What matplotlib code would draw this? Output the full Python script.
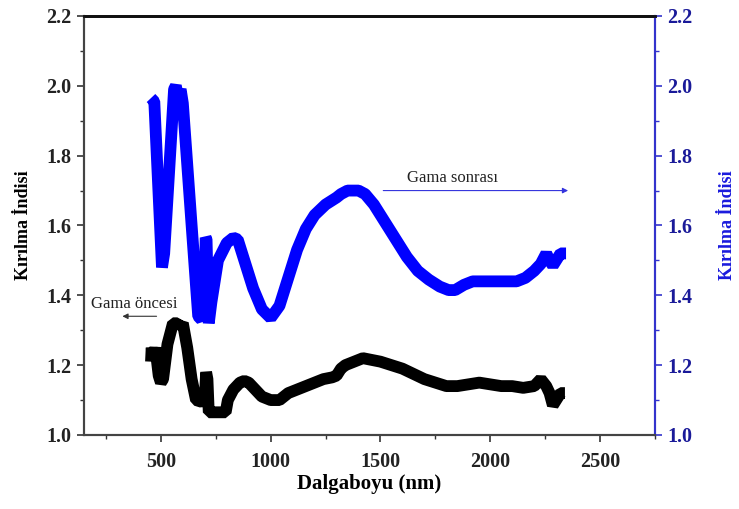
import matplotlib
matplotlib.use("Agg")
import matplotlib.pyplot as plt
from matplotlib.ticker import MultipleLocator

# Data
wl_after = [455, 470, 505, 515, 560, 568, 578, 590, 600, 640, 670, 685, 698, 704, 708, 712, 718, 730,
            760, 800, 830, 850, 880, 920, 960, 1000, 1040, 1080, 1120, 1160, 1200, 1250, 1300,
            1320, 1350, 1400, 1430, 1470, 1520, 1570, 1620, 1670, 1720, 1770, 1810, 1840, 1880,
            1920, 1960, 2000, 2040, 2080, 2120, 2160, 2200, 2230, 2255, 2270, 2285, 2300, 2320, 2345]
n_after = [1.965, 1.955, 1.48, 1.52, 1.99, 2.00, 1.97, 1.99, 1.95, 1.60, 1.34, 1.33, 1.40, 1.565, 1.56,
           1.45, 1.32, 1.38, 1.50, 1.55, 1.565, 1.56, 1.50, 1.42, 1.36, 1.335, 1.37, 1.45, 1.53, 1.59,
           1.63, 1.66, 1.68, 1.69, 1.70, 1.70, 1.69, 1.66, 1.61, 1.56, 1.51, 1.47, 1.445, 1.425, 1.415,
           1.415, 1.43, 1.44, 1.44, 1.44, 1.44, 1.44, 1.44, 1.45, 1.47, 1.49, 1.52, 1.50, 1.485, 1.50,
           1.52, 1.52]

wl_before = [455, 458, 465, 475, 490, 500, 510, 530, 555, 575, 585, 600, 620, 640, 660, 685, 700,
             706, 712, 718, 740, 795, 805, 830, 860, 880, 900, 930, 960, 1000, 1040, 1080,
             1120, 1160, 1200, 1240, 1280, 1300, 1320, 1340, 1380, 1420, 1460, 1500, 1550, 1600,
             1650, 1700, 1750, 1800, 1850, 1900, 1950, 2000, 2050, 2100, 2150, 2200, 2230,
             2255, 2270, 2285, 2300, 2320, 2340]
n_before = [1.21, 1.25, 1.22, 1.25, 1.17, 1.15, 1.16, 1.26, 1.32, 1.32, 1.31, 1.32, 1.25, 1.16, 1.10,
            1.095, 1.10, 1.18, 1.16, 1.065, 1.065, 1.065, 1.10, 1.13, 1.15, 1.155, 1.15, 1.13, 1.11,
            1.10, 1.10, 1.12, 1.13, 1.14, 1.15, 1.16, 1.165, 1.17, 1.19, 1.20, 1.21, 1.22, 1.215,
            1.21, 1.20, 1.19, 1.175, 1.16, 1.15, 1.14, 1.14, 1.145, 1.15, 1.145, 1.14, 1.14, 1.135,
            1.14, 1.16, 1.14, 1.12, 1.085, 1.10, 1.12, 1.12]

xticks = [500, 1000, 1500, 2000, 2500]
yticks = [1.0, 1.2, 1.4, 1.6, 1.8, 2.0, 2.2]

plt.rcParams['font.family'] = ['Liberation Serif', 'DejaVu Serif']

fig = plt.figure(figsize=(7.39, 5.09), dpi=100)
ax = fig.add_axes([0.1137, 0.1454, 0.7726, 0.8232])
ax2 = ax.twinx()

ax.plot(wl_before, n_before, color='black', lw=8.5, solid_joinstyle='bevel', solid_capstyle='butt')
ax2.plot(wl_after, n_after, color='#0000ff', lw=8.5, solid_joinstyle='bevel', solid_capstyle='butt')

for a in (ax, ax2):
    a.set_ylim(1.0, 2.2)
    a.set_yticks(yticks)
    a.yaxis.set_minor_locator(MultipleLocator(0.1))
ax.set_xlim(150, 2750)
ax.set_xticks(xticks)
ax.xaxis.set_minor_locator(MultipleLocator(250))

ax.set_yticklabels([f"{v:.1f}" for v in yticks], fontsize=14.5, fontweight='bold')
ax.set_xticklabels([str(v) for v in xticks], fontsize=14.5, fontweight='bold')
ax2.set_yticklabels([f"{v:.1f}" for v in yticks], fontsize=14.5, fontweight='bold', color='#1a1a99')

ax.tick_params(axis='both', which='major', direction='out', length=5, width=1.2, colors='#333333', labelcolor='#222222')
ax.tick_params(axis='both', which='minor', direction='out', length=3, width=1.0, colors='#333333')
ax.tick_params(axis='x', pad=7)
ax.tick_params(axis='y', pad=4)
ax2.tick_params(axis='y', which='major', direction='out', length=5, width=1.2, colors='#3333cc', labelcolor='#1a1a99', pad=4)
ax2.tick_params(axis='y', which='minor', direction='out', length=3, width=1.0, colors='#3333cc')

for a in (ax, ax2):
    a.spines['left'].set_color('#444444')
    a.spines['bottom'].set_color('#444444')
    a.spines['top'].set_color('#111111')
    a.spines['top'].set_linewidth(2)
    a.spines['right'].set_color('#3333cc')
    a.spines['right'].set_linewidth(1.5)
    a.spines['left'].set_linewidth(1.5)
    a.spines['bottom'].set_linewidth(1.5)

ax.set_xlabel('Dalgaboyu (nm)', fontsize=15, fontweight='bold', labelpad=2)
ax.set_ylabel('Kırılma İndisi', fontsize=13, fontweight='bold', labelpad=10)
ax2.set_ylabel('Kırılma İndisi', fontsize=13, fontweight='bold', color='#1a1add', labelpad=19,
               rotation=90)

ax.annotate('', xy=(312, 1.34), xytext=(493, 1.34),
            arrowprops=dict(arrowstyle='-|>', color='#333333', lw=0.8, mutation_scale=8))
ax.text(380, 1.375, 'Gama öncesi', fontsize=12, ha='center', va='center', color='#222222')

ax.annotate('', xy=(2367, 1.70), xytext=(1500, 1.70),
            arrowprops=dict(arrowstyle='-|>', color='#3333dd', lw=0.8, mutation_scale=8))
ax.text(1830, 1.736, 'Gama sonrası', fontsize=12, ha='center', va='center', color='#222222')

fig.savefig('out.png', dpi=100)
